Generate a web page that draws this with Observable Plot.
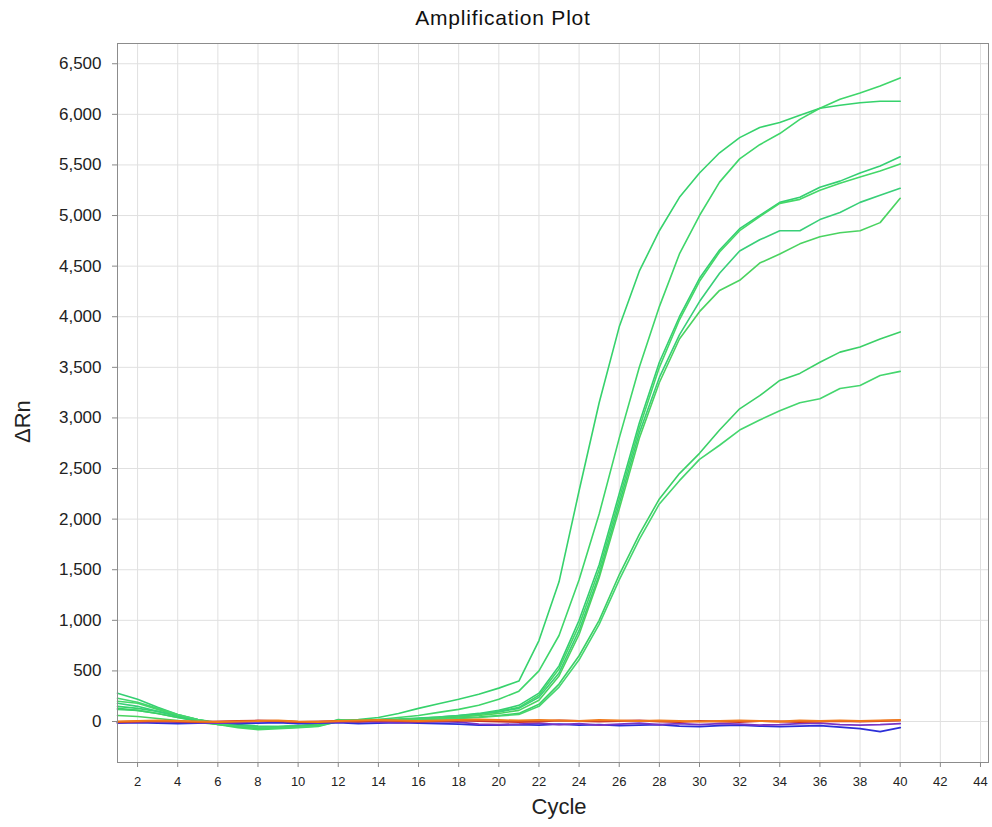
<!DOCTYPE html>
<html><head><meta charset="utf-8">
<script src="https://cdn.jsdelivr.net/npm/d3@7"></script>
<script src="https://cdn.jsdelivr.net/npm/@observablehq/plot@0.6"></script>
<style>
body{margin:0;background:#fff;font-family:"Liberation Sans",Arial,sans-serif;}
#title{height:36px;line-height:36px;text-align:center;font-size:21px;letter-spacing:0.8px;color:#111;padding-left:14px;box-sizing:border-box;width:992px}
</style></head><body>
<div id="title">Amplification Plot</div>
<div id="chart"></div>
<script>
const cycles = [1,2,3,4,5,6,7,8,9,10,11,12,13,14,15,16,17,18,19,20,21,22,23,24,25,26,27,28,29,30,31,32,33,34,35,36,37,38,39,40];
const xTicks = [2,4,6,8,10,12,14,16,18,20,22,24,26,28,30,32,34,36,38,40,42,44];
const yTicks = [0,500,1000,1500,2000,2500,3000,3500,4000,4500,5000,5500,6000,6500];

const wellA = [150,130,100,60,20,-10,-30,-45,-50,-40, -30,10,20,40,80,130,175,220,270,330, 400,800,1380,2280,3150,3900,4450,4850,5180,5420, 5620,5770,5870,5920,5990,6060,6090,6115,6130,6130];
const wellB = [120,110,80,40,10,-20,-40,-50,-55,-45, -30,0,10,20,40,60,90,120,160,220, 300,500,850,1400,2050,2800,3500,4100,4620,5000, 5330,5560,5700,5810,5950,6060,6150,6210,6280,6360];
const wellC = [280,220,140,70,20,-20,-50,-70,-60,-50, -40,20,0,10,20,30,45,60,80,110, 160,280,550,1000,1550,2250,2950,3550,4000,4380, 4660,4870,5000,5130,5180,5280,5340,5420,5490,5580];
const wellD = [200,180,120,60,10,-30,-60,-80,-70,-60, -50,0,10,10,20,30,40,50,70,100, 140,260,520,950,1500,2200,2900,3500,3970,4350, 4640,4850,4990,5120,5160,5250,5320,5380,5440,5510];
const wellE = [180,150,100,50,10,-20,-40,-55,-50,-45, -35,10,15,20,25,35,45,60,75,95, 130,240,480,900,1450,2150,2850,3400,3820,4150, 4430,4650,4760,4850,4850,4960,5030,5130,5200,5270];
const wellF = [60,50,30,10,-10,-30,-50,-60,-55,-45, -30,15,10,15,20,25,35,45,60,80, 110,210,450,860,1420,2100,2800,3350,3780,4050, 4260,4360,4530,4620,4720,4790,4830,4850,4930,5170];
const wellG = [130,110,80,40,0,-30,-50,-60,-60,-50, -40,5,0,10,15,20,25,35,45,60, 80,170,370,650,1000,1450,1850,2200,2450,2650, 2880,3090,3220,3370,3440,3550,3650,3700,3780,3850];
const wellH = [230,190,130,70,20,-20,-45,-60,-65,-55, -45,0,5,10,15,20,25,30,40,55, 70,150,340,610,960,1400,1800,2150,2380,2590, 2730,2880,2980,3070,3150,3190,3290,3320,3420,3460];

const ntcOrange = [0,5,10,5,0,-5,0,5,10,0, -5,5,10,15,10,5,10,15,20,15, 10,15,10,5,15,10,5,10,5,0, 5,10,5,0,10,5,10,5,10,15];
const ntcRed    = [-5,0,5,0,-5,0,5,10,5,-5, 0,5,0,10,5,0,5,10,5,0, -5,0,10,5,0,5,10,0,-5,5, 0,-5,5,0,-5,0,5,0,5,10];
const ntcPurple = [-10,-5,0,-5,-10,-15,-10,0,5,-5, -10,-5,0,-5,-10,-5,0,-5,-25,-30, -25,-15,-30,-20,-35,-25,-15,-30,-20,-30, -20,-25,-35,-30,-20,-15,-30,-35,-30,-20];
const ntcBlue   = [-15,-10,-15,-20,-15,-10,-20,-15,-10,-20, -15,-10,-20,-15,-10,-15,-20,-25,-35,-35, -30,-35,-25,-35,-30,-40,-35,-30,-45,-50, -40,-35,-45,-50,-45,-40,-55,-70,-100,-60];

const greenSeries = [
  ["A", wellA, "#36d26c"], ["B", wellB, "#3fd66a"], ["C", wellC, "#34cf72"], ["D", wellD, "#44d868"],
  ["E", wellE, "#38cf78"], ["F", wellF, "#4ad360"], ["G", wellG, "#3bd067"], ["H", wellH, "#45d66e"]
];
const ntcSeries = [
  ["N1", ntcBlue, "#2b2fd8"], ["N2", ntcPurple, "#7a35c4"], ["N3", ntcRed, "#c8342a"], ["N4", ntcOrange, "#f07a1a"]
];
function toRows(list) {
  const rows = [];
  for (const [name, vals, col] of list) vals.forEach((v, i) => rows.push({series: name, cycle: cycles[i], value: v, color: col}));
  return rows;
}
const greenRows = toRows(greenSeries);
const ntcRows = toRows(ntcSeries);

const chart = Plot.plot({
  width: 992, height: 791,
  marginTop: 7, marginLeft: 117, marginRight: 4, marginBottom: 65,
  style: {fontFamily: "'Liberation Sans', Arial, sans-serif", background: "#fff", color: "#222"},
  x: {domain: [1, 44.4]},
  y: {domain: [-405, 6700]},
  color: {type: "identity"},
  marks: [
    Plot.gridX(xTicks, {stroke: "#e0e0e0", strokeOpacity: 1}),
    Plot.gridY(yTicks, {stroke: "#e0e0e0", strokeOpacity: 1}),
    Plot.line(greenRows, {x: "cycle", y: "value", z: "series", stroke: "color", strokeWidth: 1.6}),
    Plot.line(ntcRows, {x: "cycle", y: "value", z: "series", stroke: "color", strokeWidth: 1.8}),
    Plot.frame({stroke: "#8c8c8c"}),
    Plot.axisY(yTicks, {tickFormat: d3.format(","), tickSize: 5, tickPadding: 11, fontSize: 17, label: null, stroke: "#888", fill: "#222"}),
    Plot.axisX(xTicks, {tickSize: 5, tickPadding: 9, fontSize: 13, label: null, stroke: "#888", fill: "#222"}),
    Plot.text(["ΔRn"], {frameAnchor: "left", rotate: -90, dx: -95, dy: 40, fontSize: 22, fill: "#222"}),
    Plot.text(["Cycle"], {frameAnchor: "bottom", dx: 6, dy: 51, fontSize: 22, fill: "#222"})
  ]
});
document.getElementById("chart").appendChild(chart);
</script>
</body></html>
